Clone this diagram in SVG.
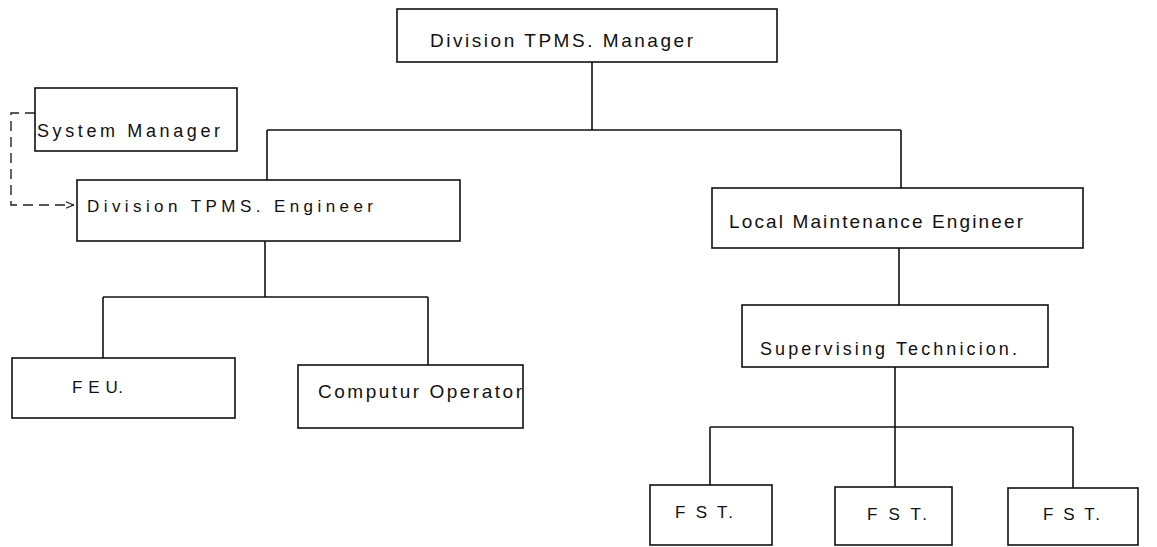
<svg xmlns="http://www.w3.org/2000/svg" width="1157" height="547" viewBox="0 0 1157 547">
<style>
.box{fill:#fff;stroke:#111;stroke-width:1.6}
.ln{fill:none;stroke:#111;stroke-width:1.6}
.dash{fill:none;stroke:#222;stroke-width:1.4;stroke-dasharray:10 6}
text{font-family:"Liberation Sans",Arial,sans-serif;fill:#111}
</style>
<defs>
<marker id="arr" viewBox="0 0 10 10" refX="10" refY="5" markerWidth="8" markerHeight="8" orient="auto" markerUnits="userSpaceOnUse">
<path d="M0,1 L10,5 L0,9" fill="none" stroke="#222" stroke-width="1.4"/>
</marker>
</defs>
<rect width="1157" height="547" fill="#fff"/>
<g id="connectors">
<path class="ln" d="M592,62 V130"/>
<path class="ln" d="M267,130 H901"/>
<path class="ln" d="M267,130 V180"/>
<path class="ln" d="M901,130 V188"/>
<path class="ln" d="M265,241 V297"/>
<path class="ln" d="M103,297 H428"/>
<path class="ln" d="M103,297 V358"/>
<path class="ln" d="M428,297 V365"/>
<path class="ln" d="M899,248 V305"/>
<path class="ln" d="M895,367 V487"/>
<path class="ln" d="M710,427 H1073"/>
<path class="ln" d="M710,427 V485"/>
<path class="ln" d="M1073,427 V488"/>
<path class="dash" d="M35,113 H11 V205 H74" marker-end="url(#arr)"/>
</g>
<g id="division-manager">
<rect class="box" x="397" y="9" width="380" height="53"/>
<text x="430" y="47" font-size="19" textLength="263" lengthAdjust="spacing">Division TPMS. Manager</text>
</g>
<g id="system-manager">
<rect class="box" x="35" y="88" width="202" height="63"/>
<text x="37" y="137" font-size="18" textLength="183" lengthAdjust="spacing">System Manager</text>
</g>
<g id="division-engineer">
<rect class="box" x="77" y="180" width="383" height="61"/>
<text x="87" y="212" font-size="17" textLength="286" lengthAdjust="spacing">Division TPMS. Engineer</text>
</g>
<g id="local-engineer">
<rect class="box" x="712" y="188" width="371" height="60"/>
<text x="729" y="228" font-size="19" textLength="294" lengthAdjust="spacing">Local Maintenance Engineer</text>
</g>
<g id="feu">
<rect class="box" x="12" y="358" width="223" height="60"/>
<text x="72" y="393" font-size="17" textLength="51" lengthAdjust="spacing">F E U.</text>
</g>
<g id="computer-operator">
<rect class="box" x="298" y="365" width="225" height="63"/>
<text x="318" y="398" font-size="19" textLength="204" lengthAdjust="spacing">Computur Operator</text>
</g>
<g id="supervising-technician">
<rect class="box" x="742" y="305" width="306" height="62"/>
<text x="760" y="355" font-size="18" textLength="257" lengthAdjust="spacing">Supervising Technicion.</text>
</g>
<g id="fst-1">
<rect class="box" x="650" y="485" width="122" height="60"/>
<text x="675" y="518" font-size="17" textLength="58" lengthAdjust="spacing">F S T.</text>
</g>
<g id="fst-2">
<rect class="box" x="835" y="487" width="117" height="58"/>
<text x="867" y="520" font-size="17" textLength="60" lengthAdjust="spacing">F S T.</text>
</g>
<g id="fst-3">
<rect class="box" x="1008" y="488" width="130" height="57"/>
<text x="1043" y="520" font-size="17" textLength="57" lengthAdjust="spacing">F S T.</text>
</g>
</svg>
